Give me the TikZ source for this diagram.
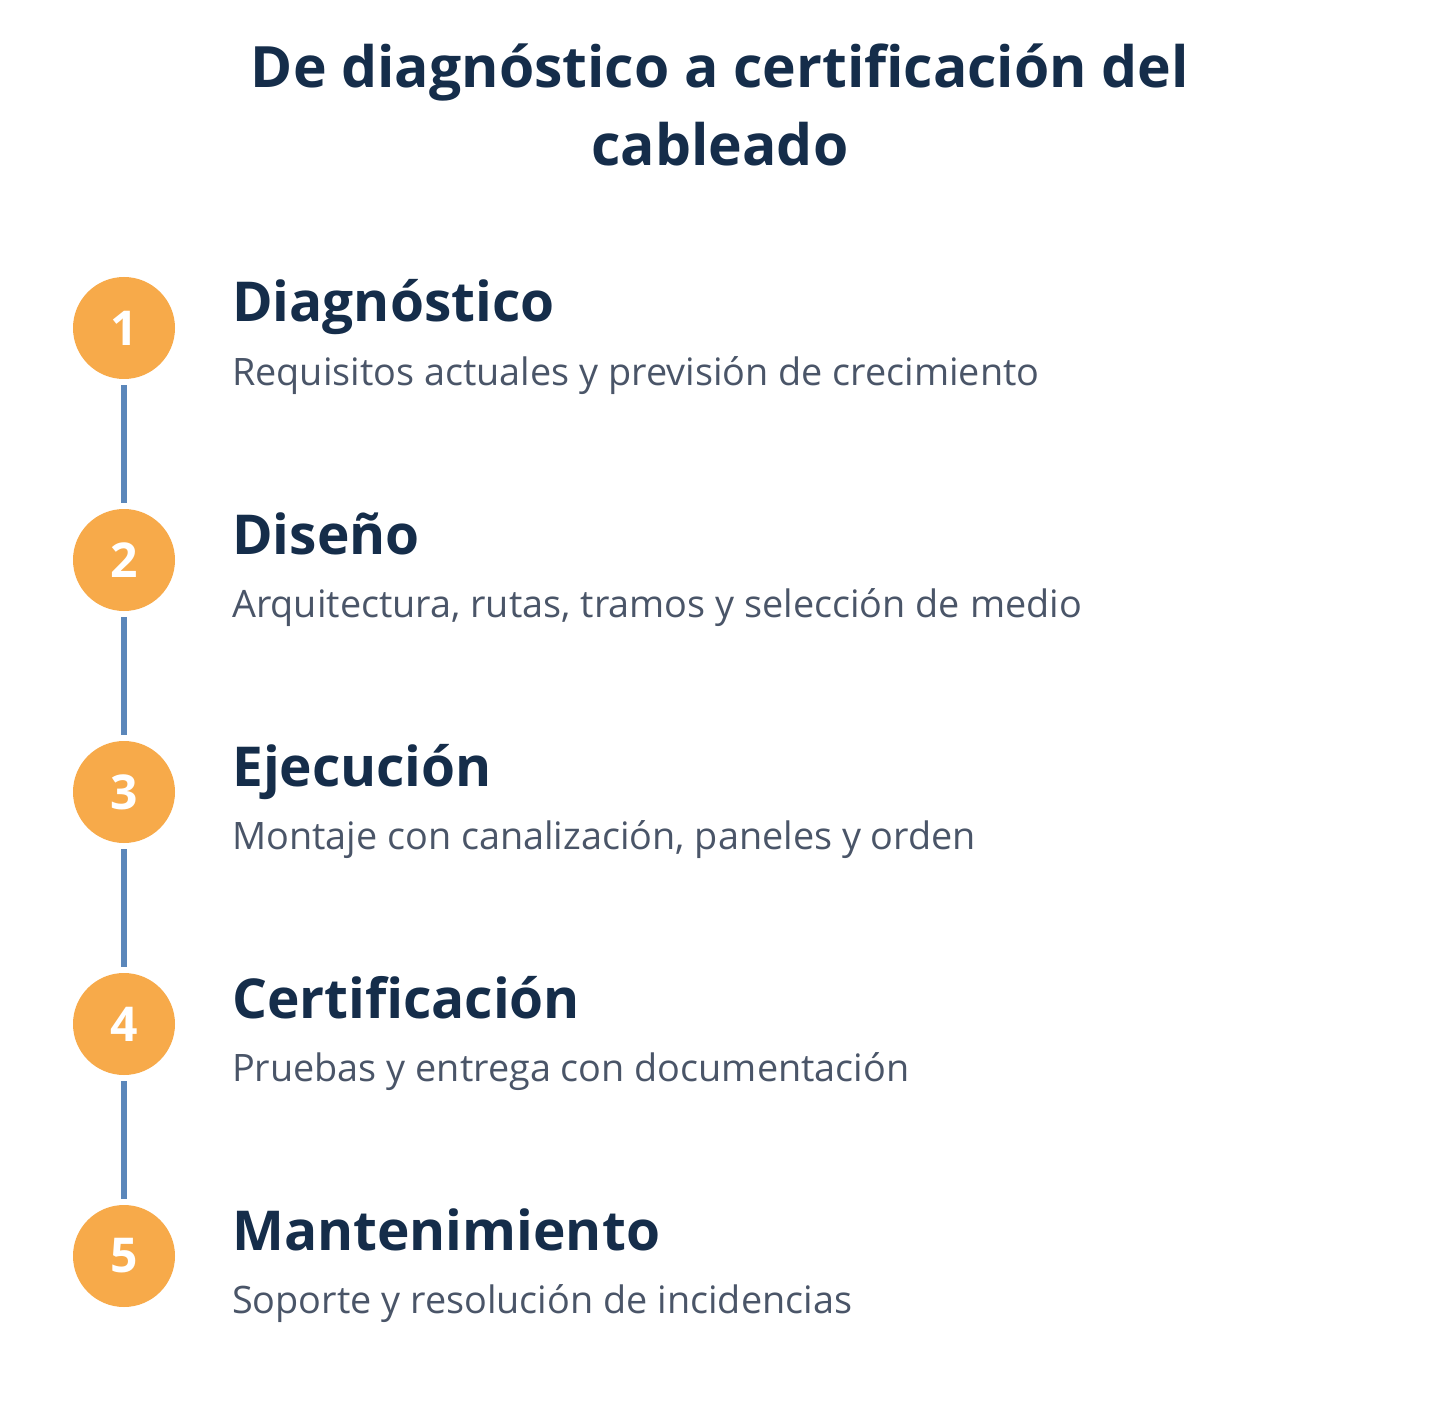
\documentclass[tikz,border=0pt]{standalone}
\usepackage{fontspec}
\setmainfont{Open Sans}
\definecolor{titlec}{HTML}{152D4A}
\definecolor{subc}{HTML}{4A5568}
\definecolor{orangec}{HTML}{F7AA4A}
\definecolor{linec}{HTML}{5B87BA}
\tikzset{
  stepcircle/.style={circle,fill=orangec,minimum size=102pt,inner sep=0pt,text=white,font=\fontsize{48}{56}\selectfont\bfseries},
  heading/.style={anchor=base west,inner sep=0pt,text=titlec,font=\fontsize{55}{64}\selectfont\bfseries},
  subtext/.style={anchor=base west,inner sep=0pt,text=subc,font=\fontsize{37.8}{44}\selectfont},
  titletext/.style={anchor=base,inner sep=0pt,text=titlec,font=\fontsize{57}{66}\selectfont\bfseries},
  connector/.style={draw=linec,line width=6pt,shorten <=6pt,shorten >=6pt}
}
\begin{document}
\begin{tikzpicture}[x=1pt,y=-1pt]
\useasboundingbox[fill=white] (0,0) rectangle (1440,1404);
\node[titletext] (t1) at (720,88) {De diagnóstico a certificación del};
\node[titletext] (t2) at (720,166) {cableado};
\foreach \i/\h/\s in {1/Diagnóstico/Requisitos actuales y previsión de crecimiento,
                      2/Diseño/{Arquitectura, rutas, tramos y selección de medio},
                      3/Ejecución/{Montaje con canalización, paneles y orden},
                      4/Certificación/Pruebas y entrega con documentación,
                      5/Mantenimiento/Soporte y resolución de incidencias}{
  \pgfmathsetmacro{\yc}{328+232*(\i-1)}
  \node[stepcircle] (c\i) at (124,\yc) {\i};
  \node[heading] (h\i) at (232,\yc-6) {\h};
  \node[subtext] (s\i) at (232,\yc+57) {\s};
}
\foreach \a/\b in {1/2,2/3,3/4,4/5}{
  \draw[connector] (c\a.south) -- (c\b.north);
}
\end{tikzpicture}
\end{document}
